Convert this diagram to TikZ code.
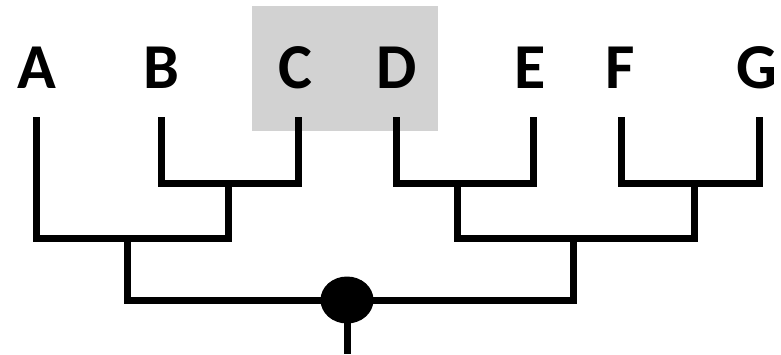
\documentclass[tikz,border=0pt]{standalone}
\usepackage{fontspec}
\setmainfont{Carlito}
\usetikzlibrary{shapes.geometric}
\begin{document}
\begin{tikzpicture}[x=1pt,y=-1pt,
  leaf/.style={font=\bfseries\fontsize{64}{64}\selectfont, anchor=base, inner sep=0pt},
  branch/.style={line width=7pt, line join=miter, line cap=butt},
  rootdot/.style={ellipse, fill=black, minimum width=53pt, minimum height=47pt, inner sep=0pt}]
\useasboundingbox (0,0) rectangle (781,354);
\fill[gray!35] (252,6) rectangle (438,131);
% labels
\node[leaf] (A) at (37,88) {A};
\node[leaf] (B) at (161,88) {B};
\node[leaf] (C) at (295,88) {C};
\node[leaf] (D) at (397,88) {D};
\node[leaf] (E) at (530,88) {E};
\node[leaf] (F) at (620,88) {F};
\node[leaf] (G) at (757,88) {G};
% leaf tips
\coordinate (a) at (36,117);
\coordinate (b) at (161,117);
\coordinate (c) at (298,117);
\coordinate (d) at (396,117);
\coordinate (e) at (533,117);
\coordinate (f) at (621,117);
\coordinate (g) at (759,117);
% internal junctions
\coordinate (bc) at (228,183);
\coordinate (de) at (457,183);
\coordinate (fg) at (694,183);
\coordinate (abc) at (127,238);
\coordinate (defg) at (573,238);
\node[rootdot] (root) at (347,300) {};
\coordinate (stem) at (347,354);
% branches
\draw[branch] (b) |- (c |- bc) -- (c);
\draw[branch] (d) |- (e |- de) -- (e);
\draw[branch] (f) |- (g |- fg) -- (g);
\draw[branch] (a) |- (bc |- abc) -- (bc);
\draw[branch] (de) |- (fg |- defg) -- (fg);
\draw[branch] (abc) |- (defg |- root) -- (defg);
\draw[branch] (root.center) -- (stem);
\end{tikzpicture}
\end{document}
